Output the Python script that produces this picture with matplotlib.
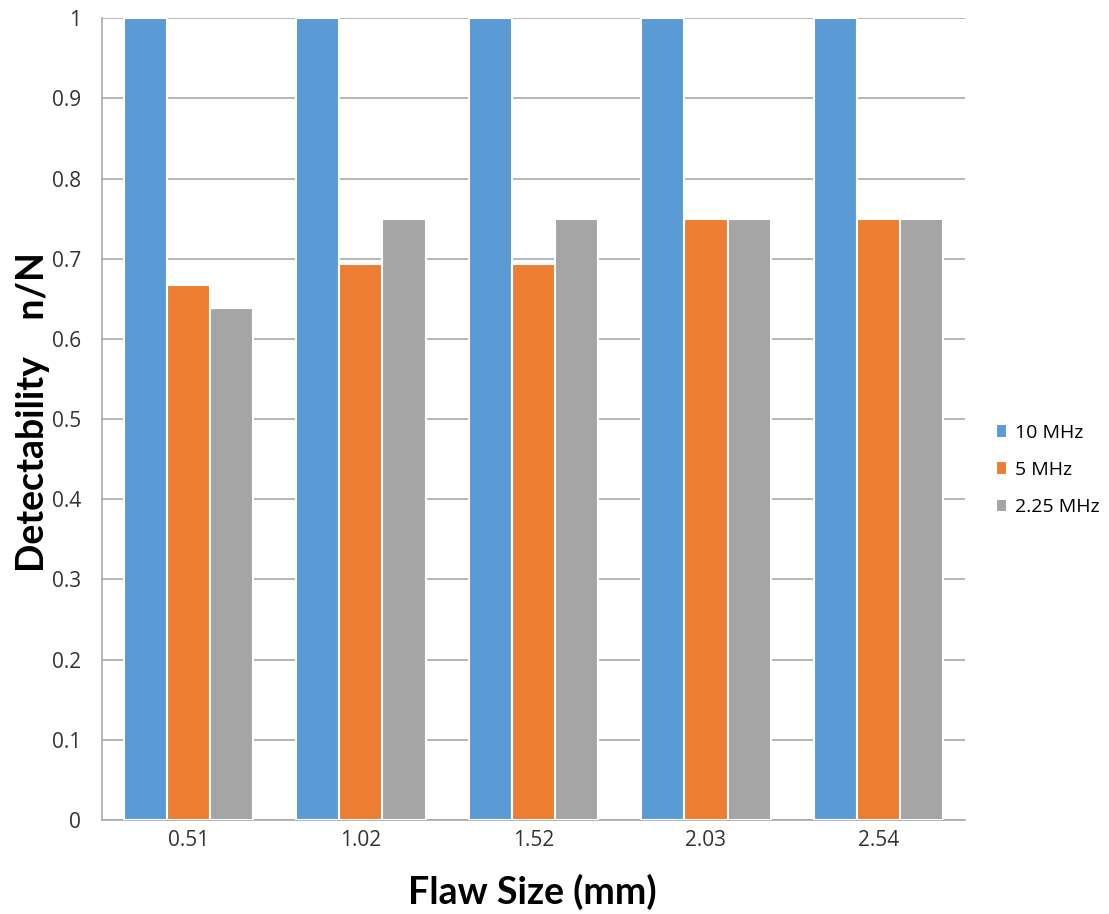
import numpy as np
import matplotlib.pyplot as plt

plt.rcParams['font.family'] = ['Open Sans', 'DejaVu Sans']

# flaw sizes (mm) and detectability ratio per probe frequency
sizes = ["0.51", "1.02", "1.52", "2.03", "2.54"]
series_names = ["10 MHz", "5 MHz", "2.25 MHz"]
det_10mhz = [1.0, 1.0, 1.0, 1.0, 1.0]
det_5mhz = [0.667, 0.694, 0.694, 0.75, 0.75]
det_225mhz = [0.639, 0.75, 0.75, 0.75, 0.75]
colors = ["#5B9BD5", "#ED7D31", "#A5A5A5"]


def main():
    fig = plt.figure(figsize=(11.09, 9.14), dpi=100)
    ax = fig.add_axes([0.092, 0.103, 0.778, 0.877])

    x = np.arange(len(sizes))
    w = 0.25
    for k, (vals, name) in enumerate(zip([det_10mhz, det_5mhz, det_225mhz], series_names)):
        ax.bar(x + (k - 1) * w, vals, width=w, color=colors[k], label=name,
               edgecolor="white", linewidth=1.5, zorder=3)

    ax.set_xlim(-0.5, len(sizes) - 0.5)
    ax.set_ylim(0, 1)
    ax.set_yticks(np.arange(0, 1.01, 0.1))
    ax.set_yticklabels(["0"] + ["%.1f" % v for v in np.arange(0.1, 0.95, 0.1)] + ["1"])
    ax.set_xticks(x)
    ax.set_xticklabels(sizes)
    ax.tick_params(length=0, labelsize=15, colors="#333333")
    ax.tick_params(axis="x", pad=7)
    ax.tick_params(axis="y", pad=15)
    ax.grid(axis="y", color="#AAAAAA", linewidth=1.2, zorder=0)

    for s in ["top", "right"]:
        ax.spines[s].set_visible(False)
    for s in ["left", "bottom"]:
        ax.spines[s].set_color("#AAAAAA")
        ax.spines[s].set_linewidth(1.2)

    fig.text(532 / 1109, 1 - 892 / 914, "Flaw Size (mm)", fontsize=27,
             fontweight="bold", family=["Lato", "DejaVu Sans"],
             ha="center", va="center")
    fig.text(33 / 1109, 1 - 412 / 914, "Detectability    n/N", fontsize=27,
             fontweight="bold", family=["Lato", "DejaVu Sans"],
             rotation=90, ha="center", va="center")

    ax.legend(loc="center left", bbox_to_anchor=(978 / 1109, 1 - 470 / 914),
              bbox_transform=fig.transFigure, frameon=False,
              fontsize=14, handlelength=0.6, handleheight=0.7, handletextpad=0.4,
              labelspacing=1.0)

    fig.savefig("out.png", dpi=100)


if __name__ == "__main__":
    main()
